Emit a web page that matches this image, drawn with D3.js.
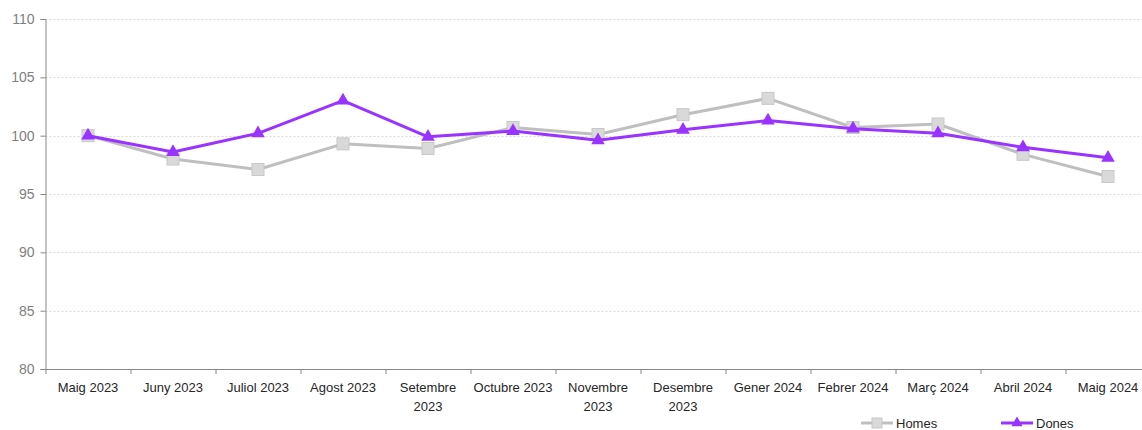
<!DOCTYPE html>
<html>
<head>
<meta charset="utf-8">
<script src="https://cdn.jsdelivr.net/npm/d3@7"></script>
<style>
  body { margin: 0; background: #fff; }
  text { font-family: "Liberation Sans", Arial, sans-serif; }
</style>
</head>
<body>
<div id="chart"></div>
<script>
const months = ["Maig 2023", "Juny 2023", "Juliol 2023", "Agost 2023", "Setembre 2023", "Octubre 2023",
    "Novembre 2023", "Desembre 2023", "Gener 2024", "Febrer 2024", "Març 2024", "Abril 2024", "Maig 2024"];
const homes = [100, 98.0, 97.1, 99.3, 98.9, 100.7, 100.1, 101.8, 103.2, 100.7, 101.0, 98.4, 96.5];
const dones = [100, 98.6, 100.2, 103.0, 99.9, 100.4, 99.6, 100.5, 101.3, 100.6, 100.2, 99.0, 98.1];
const yTicks = [80, 85, 90, 95, 100, 105, 110];
const seriesNames = ["Homes", "Dones"];

const width = 1142;
const height = 430;
const plotLeft = 45.5, plotTop = 19, plotBottom = 369;

const svg = d3.select("#chart")
    .append("svg")
    .attr("width", width)
    .attr("height", height);

let xScale = d3.scaleBand()
    .domain(months)
    .range([plotLeft, plotLeft + 85 * months.length]);

let yScale = d3.scaleLinear()
    .domain([80, 110])
    .range([plotBottom, plotTop]);

// gridlines
svg.append("g")
    .selectAll("line")
    .data(yTicks.filter(d => d > 80))
    .join("line")
    .attr("x1", plotLeft)
    .attr("x2", width)
    .attr("y1", d => Math.round(yScale(d)) + 0.5)
    .attr("y2", d => Math.round(yScale(d)) + 0.5)
    .attr("stroke", "#d9d9d9")
    .attr("stroke-dasharray", "2,2");

// y axis
let yAxis = d3.axisLeft(yScale)
    .tickValues(yTicks)
    .tickSize(5)
    .tickPadding(6);

let gy = svg.append("g")
    .attr("transform", `translate(${plotLeft}, 0)`)
    .call(yAxis);
gy.select(".domain").attr("stroke", "#868686");
gy.selectAll(".tick line").attr("stroke", "#868686");
gy.selectAll(".tick text")
    .attr("fill", "#7f7f7f")
    .style("font-size", "14px");

// x axis
let xAxis = d3.axisBottom(xScale)
    .tickSize(0)
    .tickPadding(14);

let gx = svg.append("g")
    .attr("transform", `translate(0, ${plotBottom})`)
    .call(xAxis);
gx.select(".domain").attr("stroke", "#868686").attr("d", `M${plotLeft},0.5H${width}`);
gx.selectAll(".tick text")
    .attr("fill", "#262626")
    .style("font-size", "13px")
    .each(function(d) {
        let t = d3.select(this);
        if (this.getComputedTextLength() > 82) {
            let words = d.split(" ");
            t.text(null);
            t.append("tspan").attr("x", 0).attr("dy", "0.71em").text(words[0]);
            t.append("tspan").attr("x", 0).attr("dy", "1.45em").text(words.slice(1).join(" "));
            t.attr("dy", null);
        }
    });

// band boundary ticks
gx.append("g")
    .selectAll("line")
    .data(months)
    .join("line")
    .attr("x1", d => xScale(d) + 0.5)
    .attr("x2", d => xScale(d) + 0.5)
    .attr("y1", 0)
    .attr("y2", 5)
    .attr("stroke", "#868686");

let xc = d => xScale(d) + xScale.bandwidth() / 2;

let line = d3.line()
    .x((d, i) => xc(months[i]))
    .y(d => yScale(d));

// Homes
svg.append("path")
    .datum(homes)
    .attr("fill", "none")
    .attr("stroke", "#bfbfbf")
    .attr("stroke-width", 3)
    .attr("stroke-linejoin", "round")
    .attr("d", line);

svg.append("g")
    .selectAll("rect")
    .data(homes)
    .join("rect")
    .attr("x", (d, i) => xc(months[i]) - 6)
    .attr("y", d => yScale(d) - 6)
    .attr("width", 12)
    .attr("height", 12)
    .attr("fill", "#d9d9d9")
    .attr("stroke", "#c8c8c8");

// Dones
svg.append("path")
    .datum(dones)
    .attr("fill", "none")
    .attr("stroke", "#9933ff")
    .attr("stroke-width", 3)
    .attr("stroke-linejoin", "round")
    .attr("d", line);

let tri = d3.symbol().type(d3.symbolTriangle).size(80);
svg.append("g")
    .selectAll("path")
    .data(dones)
    .join("path")
    .attr("transform", (d, i) => `translate(${xc(months[i])}, ${yScale(d)})`)
    .attr("d", tri)
    .attr("fill", "#9933ff");

// legend
let legend = svg.append("g").attr("transform", "translate(861, 423)");
let lg = legend.selectAll("g")
    .data(seriesNames)
    .join("g")
    .attr("transform", (d, i) => `translate(${i * 140}, 0)`);

lg.append("line")
    .attr("x1", 0).attr("x2", 32)
    .attr("y1", 0).attr("y2", 0)
    .attr("stroke", d => d === "Homes" ? "#bfbfbf" : "#9933ff")
    .attr("stroke-width", 3);

lg.filter(d => d === "Homes").append("rect")
    .attr("x", 11).attr("y", -5)
    .attr("width", 10).attr("height", 10)
    .attr("fill", "#d9d9d9").attr("stroke", "#c8c8c8");

lg.filter(d => d === "Dones").append("path")
    .attr("transform", "translate(16, 0)")
    .attr("d", d3.symbol().type(d3.symbolTriangle).size(55))
    .attr("fill", "#9933ff");

lg.append("text")
    .attr("x", 35)
    .attr("y", 0)
    .attr("dy", "0.35em")
    .attr("fill", "#262626")
    .style("font-size", "13px")
    .text(d => d);
</script>
</body>
</html>
